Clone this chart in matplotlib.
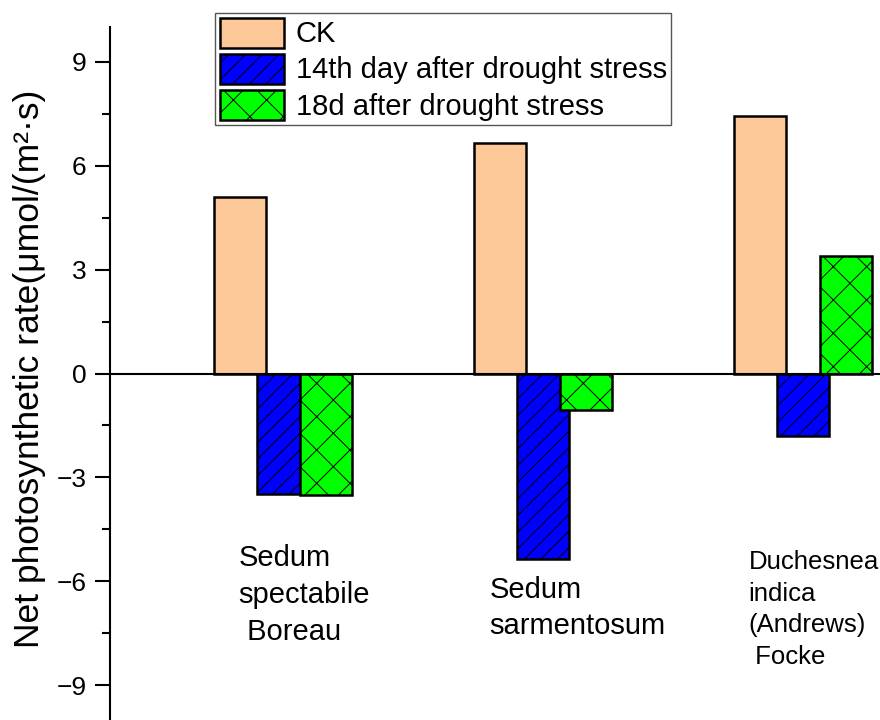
import matplotlib
matplotlib.use("Agg")
import matplotlib.pyplot as plt
from matplotlib.ticker import MultipleLocator

# data
groups = ["Sedum\nspectabile\n Boreau", "Sedum\nsarmentosum", "Duchesnea\nindica\n(Andrews)\n Focke"]
series = ["CK", "14th day after drought stress", "18d after drought stress"]
ck = [5.08, 6.66, 7.44]
day14 = [-3.49, -5.36, -1.80]
day18 = [-3.52, -1.06, 3.38]

plt.rcParams['font.family'] = ['Liberation Sans', 'DejaVu Sans']
plt.rcParams['hatch.linewidth'] = 0.7
plt.rcParams['axes.unicode_minus'] = True

fig = plt.figure(figsize=(8.8, 7.2), dpi=100)
ax = fig.add_axes([0.125, 0.0, 0.875, 0.9625])

x = [1, 2, 3]
width = 0.2
step = 0.165

ax.bar([i - step for i in x], ck, width, color='#FDC898', edgecolor='black',
       linewidth=1.8, label=series[0], zorder=2)
ax.bar(x, day14, width, color='#0000FF', edgecolor='black', hatch='//',
       linewidth=1.8, label=series[1], zorder=3)
ax.bar([i + step for i in x], day18, width, color='#00FF00', edgecolor='black', hatch='x',
       linewidth=1.8, label=series[2], zorder=4)

ax.axhline(0, color='black', linewidth=1.5, zorder=5)

ax.set_xlim(0.335, 3.296)
ax.set_ylim(-10, 10)

for s in ['top', 'right', 'bottom']:
    ax.spines[s].set_visible(False)
ax.spines['left'].set_linewidth(1.5)

ax.set_xticks([])
ax.yaxis.set_major_locator(MultipleLocator(3))
ax.yaxis.set_minor_locator(MultipleLocator(1.5))
ax.tick_params(axis='y', which='major', length=11, width=1.5, pad=6, labelsize=19)
ax.tick_params(axis='y', which='minor', length=6, width=1.5)

ax.set_ylabel("Net photosynthetic rate(μmol/(m²·s)", fontsize=25.5)
ax.yaxis.set_label_coords(-0.083, 0.507)

# species names under the bars
label_dx = [-0.17, -0.205, -0.21]
label_y = [-4.93, -5.83, -5.1]
label_size = [21, 21, 18.5]
for i, name in enumerate(groups):
    ax.text(x[i] + label_dx[i], label_y[i], name, fontsize=label_size[i],
            ha='left', va='top', linespacing=1.4)

ax.legend(loc='upper left', bbox_to_anchor=(215 / 880, 1 - 13 / 720),
          bbox_transform=fig.transFigure, borderaxespad=0, fontsize=21,
          fancybox=False, framealpha=1, edgecolor='#555555',
          handlelength=2.2, handleheight=1.2, labelspacing=0.18,
          handletextpad=0.4, borderpad=0.16)

fig.savefig("out.png", dpi=100)
